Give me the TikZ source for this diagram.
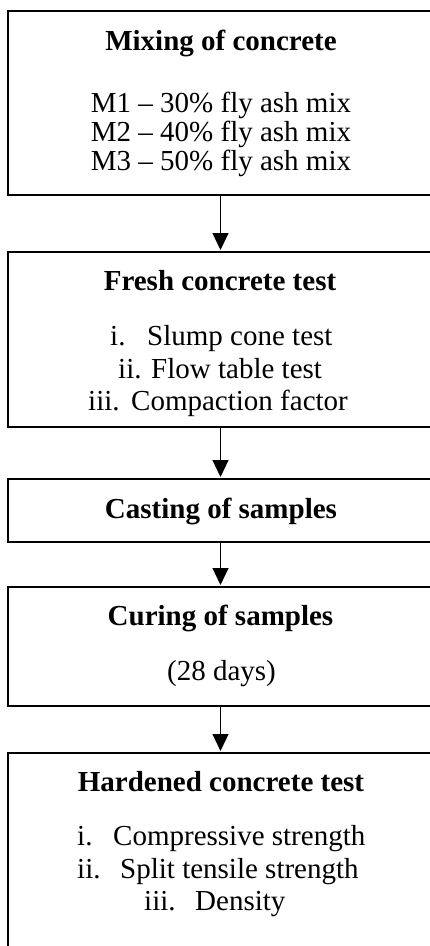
\documentclass[tikz,border=0pt]{standalone}
\usepackage{fontspec}
\setmainfont{Liberation Serif}
\usetikzlibrary{arrows.meta}
\begin{document}
\begin{tikzpicture}[x=1pt,y=-1pt,
  stagebox/.style={draw=black, line width=2pt, rectangle, minimum width=425pt, inner sep=0pt},
  txt/.style={inner sep=0pt, font=\fontsize{29}{32}\selectfont},
  head/.style={txt, anchor=base, font=\fontsize{29}{32}\selectfont\bfseries},
  item/.style={txt, anchor=base west},
  flow/.style={line width=1.2pt, -{Triangle[width=16pt,length=17pt]}, shorten >=1pt}]
\useasboundingbox (0,0) rectangle (429,946);

% stage boxes (right edge and last bottom run past the page)
\node[stagebox, minimum height=184pt] (mix)  at (220.5,103)   {};
\node[stagebox, minimum height=175pt] (fresh) at (220.5,339.5) {};
\node[stagebox, minimum height=63pt]  (cast) at (220.5,510.5) {};
\node[stagebox, minimum height=119pt] (cure) at (220.5,646.5) {};
\node[stagebox, minimum height=207pt] (hard) at (220.5,856.5) {};

% mixing
\node[head] (mixT) at (221,50) {Mixing of concrete};
\node[txt, anchor=base] (m1) at (221,112) {M1 – 30\% fly ash mix};
\node[txt, anchor=base] (m2) at (221,141) {M2 – 40\% fly ash mix};
\node[txt, anchor=base] (m3) at (221,170) {M3 – 50\% fly ash mix};

% fresh concrete
\node[head] (freshT) at (220,290) {Fresh concrete test};
\node[item] (f1n) at (110,345) {i.};
\node[item] (f1)  at (147,345) {Slump cone test};
\node[item] (f2n) at (118,378) {ii.};
\node[item] (f2)  at (151,378) {Flow table test};
\node[item] (f3n) at (88,410)  {iii.};
\node[item] (f3)  at (131,410) {Compaction factor};

% casting
\node[head] (castT) at (221,518) {Casting of samples};

% curing
\node[head] (cureT) at (220.5,625) {Curing of samples};
\node[txt, anchor=base] (days) at (221.5,680) {(28 days)};

% hardened concrete
\node[head] (hardT) at (221,791) {Hardened concrete test};
\node[item] (h1n) at (77,845)  {i.};
\node[item] (h1)  at (113,845) {Compressive strength};
\node[item] (h2n) at (77,878)  {ii.};
\node[item] (h2)  at (120,878) {Split tensile strength};
\node[item] (h3n) at (144,910) {iii.};
\node[item] (h3)  at (195,910) {Density};

% connectors
\draw[flow] (mix.south)   -- (fresh.north);
\draw[flow] (fresh.south) -- (cast.north);
\draw[flow] (cast.south)  -- (cure.north);
\draw[flow] (cure.south)  -- (hard.north);
\end{tikzpicture}
\end{document}
